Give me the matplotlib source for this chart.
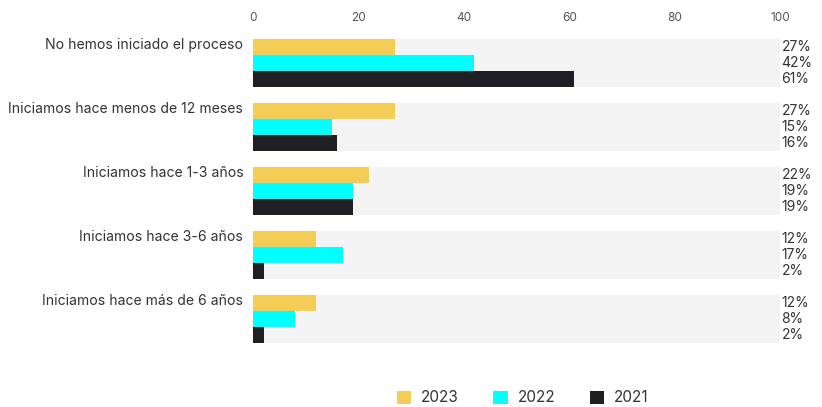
import matplotlib
matplotlib.use("Agg")
import matplotlib.pyplot as plt
from matplotlib.patches import Patch

plt.rcParams["font.family"] = ["Inter", "DejaVu Sans"]

categories = [
    "No hemos iniciado el proceso",
    "Iniciamos hace menos de 12 meses",
    "Iniciamos hace 1-3 años",
    "Iniciamos hace 3-6 años",
    "Iniciamos hace más de 6 años",
]
years = ["2023", "2022", "2021"]
values_2023 = [27, 27, 22, 12, 12]
values_2022 = [42, 15, 19, 17, 8]
values_2021 = [61, 16, 19, 2, 2]
ticks = [0, 20, 40, 60, 80, 100]

series = [values_2023, values_2022, values_2021]
colors = ["#F5CC57", "#00FFFF", "#1F1E23"]
text_color = "#333333"

fig = plt.figure(figsize=(8.22, 4.07), dpi=100)
ax = fig.add_axes([253 / 822, 1 - 343 / 407, 527 / 822, 304 / 407])

group_pitch = 4
for i, cat in enumerate(categories):
    top = i * group_pitch
    ax.barh(top + 1.5, 100, height=3, color="#F4F4F4", zorder=0)
    for j, vals in enumerate(series):
        yc = top + 0.5 + j
        ax.barh(yc, vals[i], height=1, color=colors[j], zorder=2)
        ax.annotate(f"{vals[i]}%", xy=(100, yc), xytext=(1, 0),
                    textcoords="offset points", ha="left", va="center",
                    fontsize=10, color=text_color, annotation_clip=False)
    ax.annotate(cat, xy=(0, top + 0.4), xytext=(-7, 0),
                textcoords="offset points", ha="right", va="center",
                fontsize=10.1, color=text_color, annotation_clip=False)

ax.set_xlim(0, 100)
ax.set_ylim(19, 0)
ax.xaxis.tick_top()
ax.set_xticks(ticks)
ax.set_xticklabels([str(t) for t in ticks])
ax.tick_params(axis="x", length=0, pad=11, labelsize=8.5, labelcolor="#555555")
ax.set_yticks([])
for s in ax.spines.values():
    s.set_visible(False)

handles = [Patch(facecolor=c, edgecolor="none") for c in colors]
fig.legend(handles, years, loc="lower center", bbox_to_anchor=(0.636, -0.03),
           ncol=3, frameon=False, fontsize=11, handlelength=0.92,
           handleheight=0.92, columnspacing=2.3, handletextpad=0.65,
           labelcolor=text_color)

fig.savefig("out.png", dpi=100)
